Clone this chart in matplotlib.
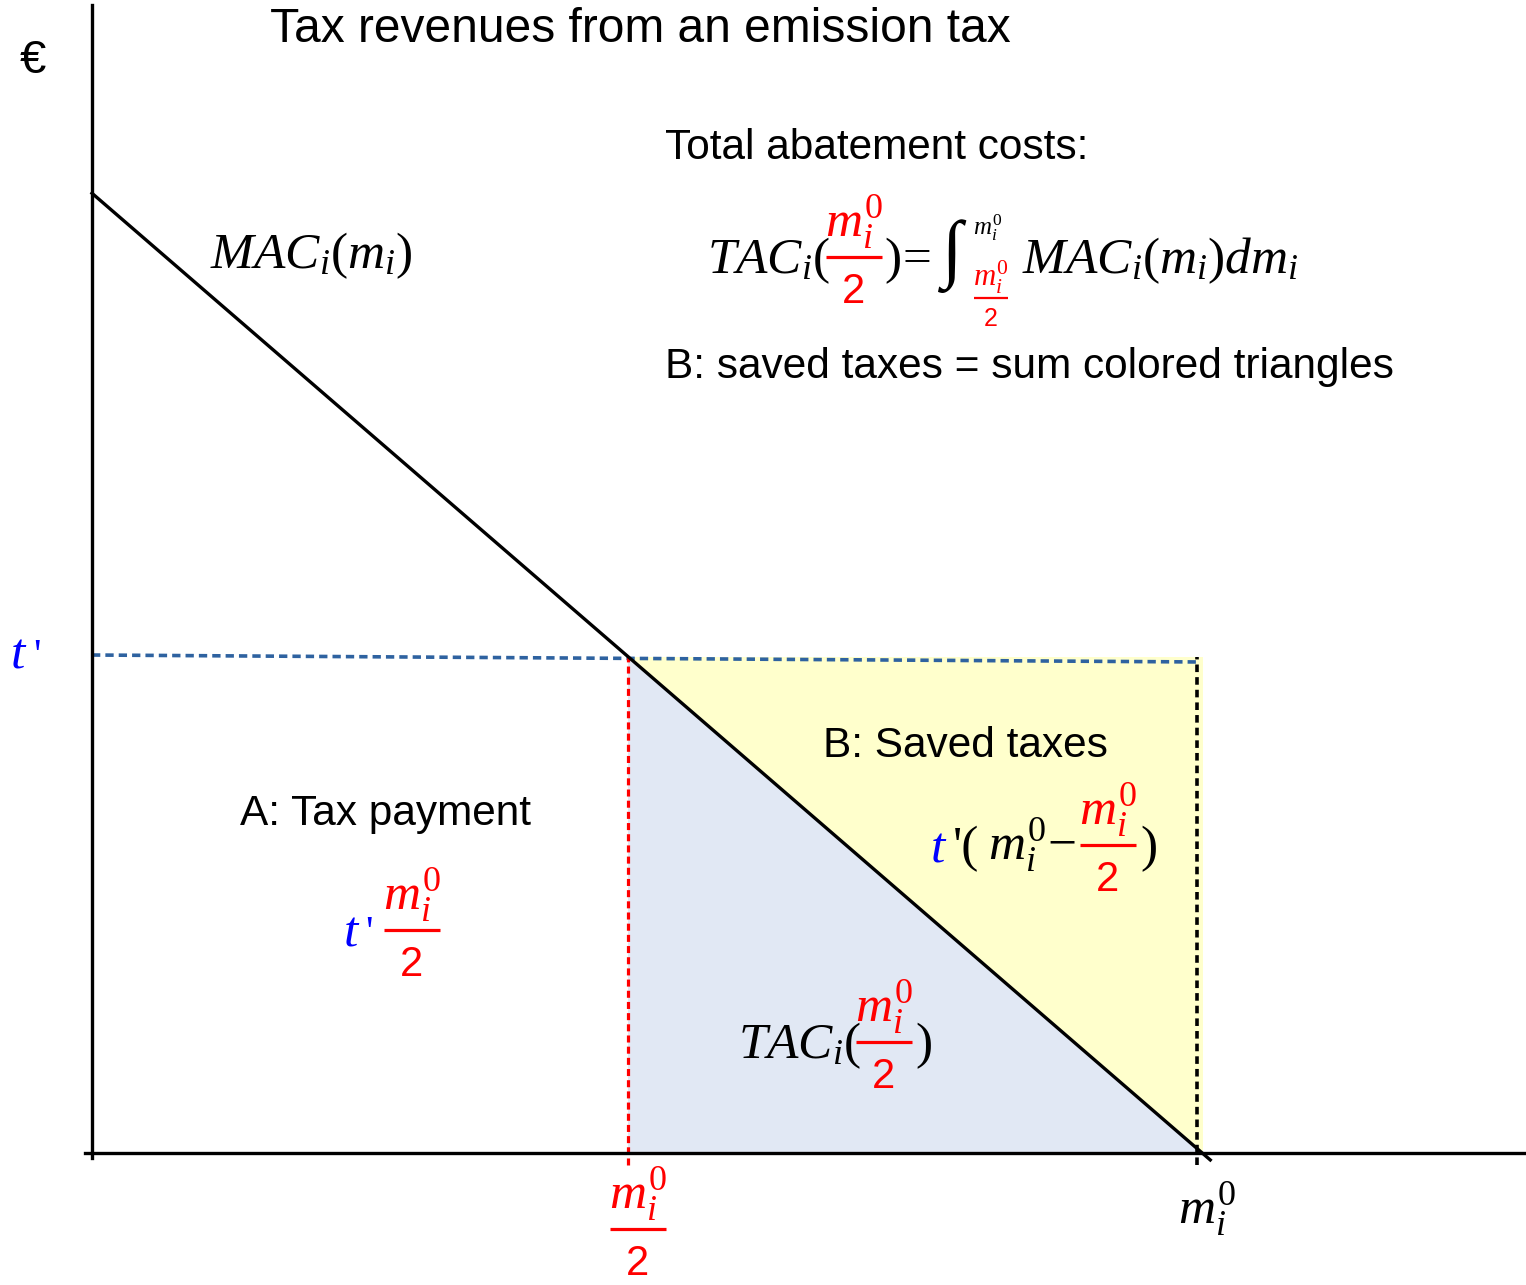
import numpy as np
import matplotlib
matplotlib.use("Agg")
import matplotlib.pyplot as plt
from matplotlib import transforms as mtransforms

plt.rcParams['font.family'] = 'Liberation Sans'
plt.rcParams['mathtext.fontset'] = 'custom'
plt.rcParams['mathtext.rm'] = 'Liberation Serif'
plt.rcParams['mathtext.it'] = 'Liberation Serif:italic'
plt.rcParams['mathtext.sf'] = 'Liberation Sans'

W, H = 1526, 1285
RED = '#ff0000'
BLUE = '#0000ff'

# values in units of m_i^0 (x) and t' (y)
m0 = 1.0
m_half = 0.485
t_prime = 1.0
mac_x = [0.0, 1.012]
mac_y = [1.935, -0.014]
tline_x = [0.0, m0]
tline_y = [1.004, 0.99]        # the dotted t' line sags a little
yaxis_top = 2.315
xaxis_left, xaxis_right = -0.006, 1.298
tick_low = -0.024

fig = plt.figure(figsize=(W / 100, H / 100), dpi=100)
ax = fig.add_axes([0, 0, 1, 1])
ax.set_xlim(-92 / 1105, (W - 92) / 1105)
ax.set_ylim(-(H - 1153) / 496, 1153 / 496)
ax.axis('off')

# areas
mac_at_half = np.interp(m_half, mac_x, mac_y)
m_zero = np.interp(0.0, mac_y[::-1], mac_x[::-1])
ax.fill([m_half, m0 + 0.005, m0 + 0.005, m_half], [t_prime, t_prime, 0, 0],
        color='#ffffcc', lw=0, zorder=1)
ax.fill([m_half, m_half, m_zero], [mac_at_half, 0, 0],
        color='#e1e8f4', lw=0, zorder=2)

# axes
ax.plot([0, 0], [-0.01, yaxis_top], color='black', lw=2.4, zorder=5)
ax.plot([xaxis_left, xaxis_right], [0, 0], color='black', lw=2.4, zorder=5)

# MAC curve
ax.plot(mac_x, mac_y, color='black', lw=2.4, zorder=6)

# dashed guides
ax.plot(tline_x, tline_y, color='#2e62a0', lw=2.6, ls=(0, (2.3, 1.4)), zorder=4)
ax.plot([m_half, m_half], [tick_low, mac_at_half], color=RED, lw=2.3,
        ls=(0, (2.2, 1.3)), zorder=4)
ax.plot([m0, m0], [tick_low, t_prime], color='black', lw=2.6,
        ls=(0, (2.1, 1.4)), zorder=4)

# text placed in pixel coordinates of the original picture
px = mtransforms.Affine2D().scale(1 / W, -1 / H).translate(0, 1) + fig.transFigure


def txt(x, y, s, size, color='black', ha='left', **kw):
    ax.text(x, y, s, fontsize=size, color=color, ha=ha, va='baseline',
            transform=px, zorder=10, **kw)


def frac(xc, yb, k=1.0):
    # red fraction m_i^0 / 2, bar at yb
    txt(xc, yb - 19 * k, r'$m_i^0$', 37 * k, RED, ha='center')
    ax.plot([xc - 28 * k, xc + 28 * k], [yb, yb], color=RED, lw=2.3 * max(k, 0.7),
            transform=px, zorder=10, solid_capstyle='butt')
    txt(xc, yb + 46 * k, '2', 30 * k, RED, ha='center')


MATH = 37
BODY = 30.5
SERIF = 'Liberation Serif'

txt(20, 73, '€', 34)
txt(270, 42, 'Tax revenues from an emission tax', 34.5)
txt(210, 268, r'$MAC_i(m_i)$', MATH)

txt(665, 159, 'Total abatement costs:', BODY)
txt(707, 273, r'$TAC_i($', MATH)
frac(854, 257)
txt(884, 273, r'$)\!=$', MATH)
txt(938, 273, r'$\int$', 54)
txt(973, 235, r'$m_i^0$', 18)
frac(991, 298, 0.6)
txt(1022, 273, r'$MAC_i(m_i)dm_i$', MATH)
txt(665, 378, 'B: saved taxes = sum colored triangles', BODY)

txt(10, 668, r'$t$', MATH, BLUE)
txt(33, 668, "'", 30, BLUE, fontfamily=SERIF)

txt(823, 757, 'B: Saved taxes', BODY)
txt(930, 861, r'$t$', MATH, BLUE)
txt(953, 861, "'(", MATH, fontfamily=SERIF)
txt(988, 861, r'$m_i^0\!-$', MATH)
frac(1108, 845)
txt(1140, 861, ')', MATH, fontfamily=SERIF)

txt(240, 825, 'A: Tax payment', BODY)
txt(343, 945, r'$t$', MATH, BLUE)
txt(365, 945, "'", 30, BLUE, fontfamily=SERIF)
frac(412, 930)

txt(738, 1058, r'$TAC_i($', MATH)
frac(884, 1042)
txt(915, 1058, ')', MATH, fontfamily=SERIF)

frac(638, 1229)
txt(1207, 1225, r'$m_i^0$', MATH, ha='center')

fig.savefig('out.png', dpi=100)
